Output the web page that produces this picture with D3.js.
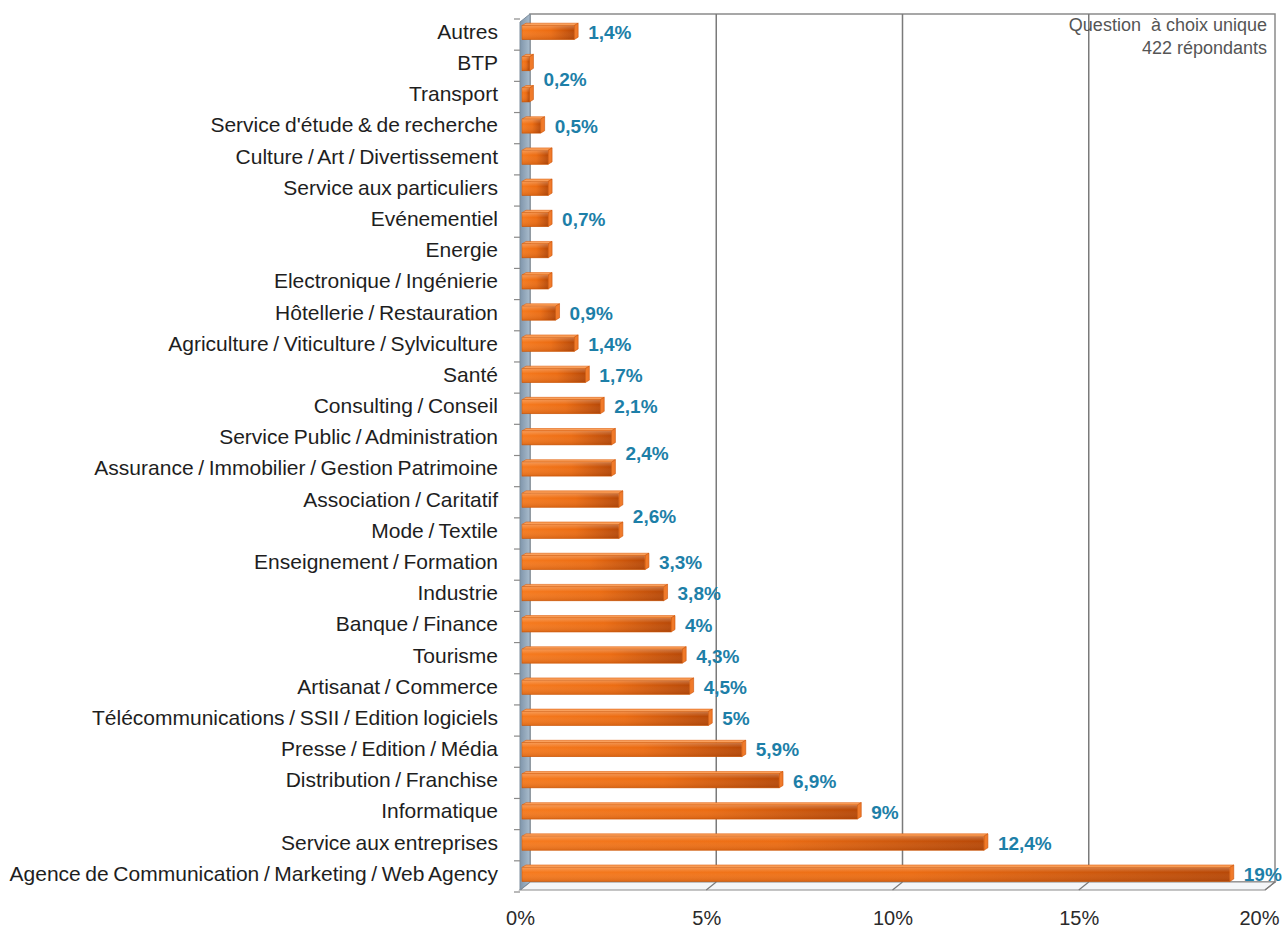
<!DOCTYPE html>
<html>
<head>
<meta charset="utf-8">
<script src="https://cdn.jsdelivr.net/npm/d3@7"></script>
<style>
  html, body { margin: 0; padding: 0; background: #fff; }
  svg { display: block; font-family: "Liberation Sans", Arial, sans-serif; }
</style>
</head>
<body>
<svg id="chart" width="1284" height="932"></svg>
<script>
// Secteurs d'activité des répondants (% des réponses)
const categories = [
  "Autres",
  "BTP",
  "Transport",
  "Service d'étude & de recherche",
  "Culture / Art / Divertissement",
  "Service aux particuliers",
  "Evénementiel",
  "Energie",
  "Electronique / Ingénierie",
  "Hôtellerie / Restauration",
  "Agriculture / Viticulture / Sylviculture",
  "Santé",
  "Consulting / Conseil",
  "Service Public / Administration",
  "Assurance / Immobilier / Gestion Patrimoine",
  "Association / Caritatif",
  "Mode / Textile",
  "Enseignement / Formation",
  "Industrie",
  "Banque / Finance",
  "Tourisme",
  "Artisanat / Commerce",
  "Télécommunications / SSII / Edition logiciels",
  "Presse / Edition / Média",
  "Distribution / Franchise",
  "Informatique",
  "Service aux entreprises",
  "Agence de Communication / Marketing / Web Agency"
];

const values = [
  1.4, 0.2, 0.2, 0.5, 0.7, 0.7, 0.7, 0.7, 0.7, 0.9,
  1.4, 1.7, 2.1, 2.4, 2.4, 2.6, 2.6, 3.3, 3.8, 4,
  4.3, 4.5, 5, 5.9, 6.9, 9, 12.4, 19
];

// Value labels: each one names the bar(s) it sits beside; shared labels sit between two bars
const labelGroups = [
  ["Autres"],
  ["BTP", "Transport"],
  ["Service d'étude & de recherche"],
  ["Evénementiel"],
  ["Hôtellerie / Restauration"],
  ["Agriculture / Viticulture / Sylviculture"],
  ["Santé"],
  ["Consulting / Conseil"],
  ["Service Public / Administration", "Assurance / Immobilier / Gestion Patrimoine"],
  ["Association / Caritatif", "Mode / Textile"],
  ["Enseignement / Formation"],
  ["Industrie"],
  ["Banque / Finance"],
  ["Tourisme"],
  ["Artisanat / Commerce"],
  ["Télécommunications / SSII / Edition logiciels"],
  ["Presse / Edition / Média"],
  ["Distribution / Franchise"],
  ["Informatique"],
  ["Service aux entreprises"],
  ["Agence de Communication / Marketing / Web Agency"]
];

const xTicks = [0, 5, 10, 15, 20];
const noteLines = ["Question  à choix unique", "422 répondants"];

const svg = d3.select("#chart");

// Front plane of the 3D plot box; the back wall is shifted by (dx, -dy)
const front = { left: 520, right: 1265, top: 22, bottom: 890 };
const dx = 10, dy = 8;

const x = d3.scaleLinear().domain([0, 20]).range([front.left, front.right]);
const y = d3.scaleBand().domain(categories).range([16, 889]).paddingInner(0.49).paddingOuter(0.245);

const byName = new Map(categories.map((c, i) => [c, values[i]]));
const fmt = v => String(v).replace(".", ",") + "%";

// Gradients
const defs = svg.append("defs");
const gFace = defs.append("linearGradient").attr("id", "barFace").attr("x1", 0).attr("x2", 1).attr("y1", 0).attr("y2", 0);
gFace.append("stop").attr("offset", "0%").attr("stop-color", "#f67a1e");
gFace.append("stop").attr("offset", "55%").attr("stop-color", "#ec6c12");
gFace.append("stop").attr("offset", "100%").attr("stop-color", "#b84806");
const gShade = defs.append("linearGradient").attr("id", "barShade").attr("x1", 0).attr("x2", 0).attr("y1", 0).attr("y2", 1);
gShade.append("stop").attr("offset", "0%").attr("stop-color", "#fff").attr("stop-opacity", 0.25);
gShade.append("stop").attr("offset", "35%").attr("stop-color", "#fff").attr("stop-opacity", 0);
gShade.append("stop").attr("offset", "100%").attr("stop-color", "#7a2a00").attr("stop-opacity", 0.2);
const gWall = defs.append("linearGradient").attr("id", "wall").attr("x1", 0).attr("x2", 1).attr("y1", 0).attr("y2", 0);
gWall.append("stop").attr("offset", "0%").attr("stop-color", "#7f95ab");
gWall.append("stop").attr("offset", "100%").attr("stop-color", "#a9bccd");

const back = { left: front.left + dx, right: front.right + dx, top: front.top - dy, bottom: front.bottom - dy };
const xb = v => x(v) + dx;

// Back wall with vertical gridlines
const box = svg.append("g").attr("class", "box");
box.append("rect")
  .attr("x", back.left).attr("y", back.top)
  .attr("width", back.right - back.left).attr("height", back.bottom - back.top)
  .attr("fill", "#fff").attr("stroke", "#8a8a8a").attr("stroke-width", 1.5);
box.selectAll("line.grid").data(xTicks.slice(1, -1)).join("line")
  .attr("class", "grid")
  .attr("x1", d => xb(d)).attr("x2", d => xb(d))
  .attr("y1", back.top).attr("y2", back.bottom)
  .attr("stroke", "#7a7a7a").attr("stroke-width", 1.5);

// Floor
box.append("path")
  .attr("d", `M${front.left},${front.bottom} L${back.left},${back.bottom} L${back.right},${back.bottom} L${front.right},${front.bottom} Z`)
  .attr("fill", "#f4f6f8").attr("stroke", "#8a8a8a").attr("stroke-width", 1.2);
box.selectAll("line.floorTick").data(xTicks.slice(1)).join("line")
  .attr("class", "floorTick")
  .attr("x1", d => xb(d)).attr("y1", back.bottom)
  .attr("x2", d => x(d)).attr("y2", front.bottom)
  .attr("stroke", "#7a7a7a").attr("stroke-width", 1.2);

// Left wall
box.append("path")
  .attr("d", `M${front.left},${front.top} L${back.left},${back.top} L${back.left},${back.bottom} L${front.left},${front.bottom} Z`)
  .attr("fill", "url(#wall)").attr("stroke", "#7d8d9c").attr("stroke-width", 1);

// Category separator ticks on the left edge
const step = y.step();
const bounds = d3.range(categories.length + 1).map(i => y.range()[0] + i * step + 3);
box.selectAll("line.catTick").data(bounds).join("line")
  .attr("class", "catTick")
  .attr("x1", front.left - 6).attr("x2", front.left)
  .attr("y1", d => d).attr("y2", d => d)
  .attr("stroke", "#8a8a8a").attr("stroke-width", 1.2);

// Bars (top face, end cap, front face)
const bh = 14, depth = 4;
const bars = svg.append("g").attr("class", "bars")
  .selectAll("g").data(categories.map((c, i) => ({ c, v: values[i] }))).join("g");
const by = d => y(d.c) + y.bandwidth() / 2 - bh / 2 + 1;
const bx0 = x(0) + 2;
bars.append("path")
  .attr("d", d => {
    const x1 = x(d.v) + 2, t = by(d);
    return `M${bx0},${t} L${bx0 + depth},${t - depth * 0.6} L${x1 + depth},${t - depth * 0.6} L${x1},${t} Z`;
  })
  .attr("fill", "#f9a05c").attr("stroke", "#e0600c").attr("stroke-width", 0.6);
bars.append("path")
  .attr("d", d => {
    const x1 = x(d.v) + 2, t = by(d);
    return `M${x1},${t} L${x1 + depth},${t - depth * 0.6} L${x1 + depth},${t + bh - depth * 0.6} L${x1},${t + bh} Z`;
  })
  .attr("fill", "#f07a2a").attr("stroke", "#c95308").attr("stroke-width", 0.6);
bars.append("rect")
  .attr("x", bx0).attr("y", by)
  .attr("width", d => Math.max(1, x(d.v) - x(0)))
  .attr("height", bh)
  .attr("fill", "url(#barFace)")
  .attr("stroke", "#d35a08").attr("stroke-width", 0.6);
bars.append("rect")
  .attr("x", bx0).attr("y", by)
  .attr("width", d => Math.max(1, x(d.v) - x(0)))
  .attr("height", bh)
  .attr("fill", "url(#barShade)");

// Value labels
svg.append("g").attr("class", "values")
  .selectAll("text").data(labelGroups).join("text")
  .attr("x", g => x(d3.max(g, n => byName.get(n))) + depth + 12)
  .attr("y", g => d3.mean(g, n => y(n) + y.bandwidth() / 2) + 1)
  .attr("dy", "0.35em")
  .attr("fill", "#1d7fa8")
  .attr("font-size", 19)
  .attr("font-weight", "bold")
  .text(g => fmt(byName.get(g[0])));

// Category axis
const yAxis = svg.append("g")
  .attr("transform", `translate(${front.left - 20},0)`)
  .call(d3.axisLeft(y).tickSize(0).tickPadding(2));
yAxis.select(".domain").remove();
yAxis.selectAll("text")
  .attr("font-size", 21).attr("fill", "#1e1e1e")
  .attr("word-spacing", "-1.2px")
  .attr("font-family", "'Liberation Sans', Arial, sans-serif")
  .attr("dy", "0.35em");

// Percentage axis
const xAxis = svg.append("g")
  .attr("transform", `translate(0,${front.bottom + 13})`)
  .call(d3.axisBottom(x).tickValues(xTicks).tickFormat(d => d + "%").tickSize(0).tickPadding(8));
xAxis.select(".domain").remove();
xAxis.selectAll("text")
  .attr("font-size", 20).attr("fill", "#2a2a2a")
  .attr("font-family", "'Liberation Sans', Arial, sans-serif")
  .attr("dx", d => d === 20 ? "-0.3em" : 0);

// Note in the top-right corner
svg.append("g").attr("class", "note")
  .selectAll("text").data(noteLines).join("text")
  .attr("x", 1267).attr("y", (d, i) => 31 + i * 23)
  .attr("text-anchor", "end")
  .attr("font-size", 18).attr("fill", "#555")
  .attr("xml:space", "preserve")
  .style("white-space", "pre")
  .text(d => d);
</script>
</body>
</html>
